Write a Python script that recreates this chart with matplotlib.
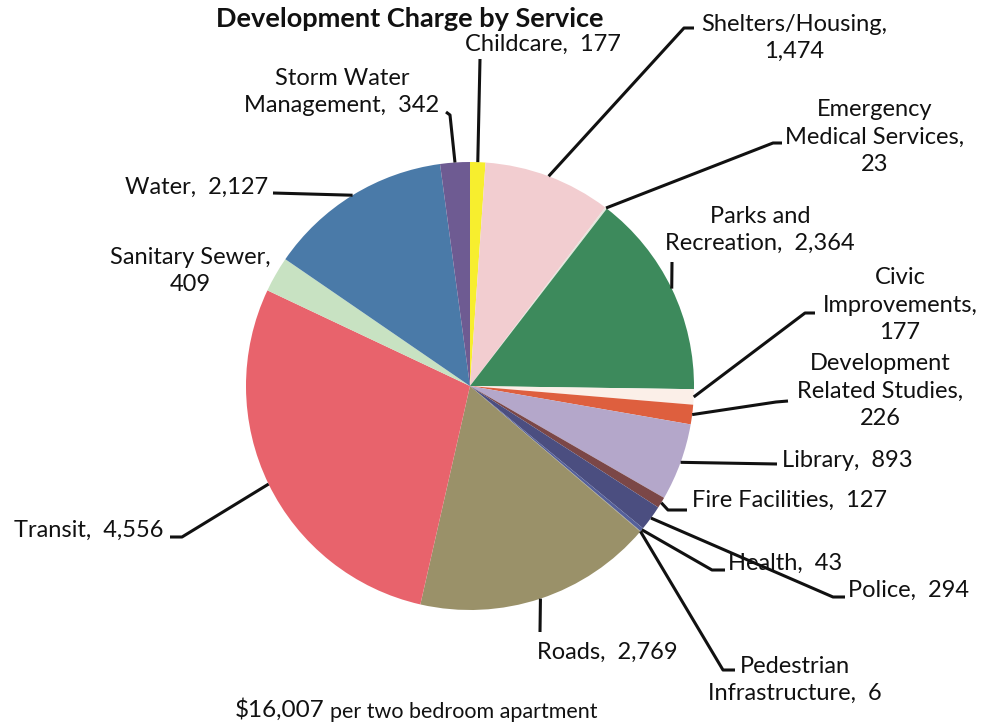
import numpy as np
import matplotlib.pyplot as plt

plt.rcParams['font.family'] = ['Lato', 'DejaVu Sans']

# development charge per two bedroom apartment, by service (clockwise from top)
services = ["Childcare", "Shelters/Housing", "Emergency\nMedical Services",
            "Parks and\nRecreation", "Civic\nImprovements", "Development\nRelated Studies",
            "Library", "Fire Facilities", "Police", "Health", "Pedestrian\nInfrastructure",
            "Roads", "Transit", "Sanitary Sewer", "Water", "Storm Water\nManagement"]
charges = [177, 1474, 23, 2364, 177, 226, 893, 127, 294, 43, 6, 2769, 4556, 409, 2127, 342]
colors = ["#f7ee2e", "#f2cdd0", "#e4e6dc", "#3d8a5c", "#fbefe8", "#de5f3e",
          "#b4a7ca", "#7b4747", "#4b4e80", "#55609a", "#8a8a8a",
          "#9a9169", "#e8636c", "#c8e2c2", "#4a7aa8", "#6e5b92"]

# label placement in pixels: (text x, text y, align, separator before value, leader points)
layout = {
    "Childcare": (543, 44, "center", ",  ", [(480, 59)]),
    "Shelters/Housing": (794, 38, "center", ",\n", [(684, 28), (694, 28)]),
    "Emergency\nMedical Services": (875, 137, "center", ",\n", [(773, 143), (782, 143)]),
    "Parks and\nRecreation": (760, 230, "center", ",  ", [(672, 262)]),
    "Civic\nImprovements": (900, 305, "center", ",\n", [(805, 313), (815, 313)]),
    "Development\nRelated Studies": (880, 391, "center", ",\n", [(776, 402), (788, 401)]),
    "Library": (782, 460, "left", ",  ", [(777, 464)]),
    "Fire Facilities": (692, 500, "left", ",  ", [(668, 510), (687, 510)]),
    "Police": (848, 590, "left", ",  ", [(833, 597), (845, 597)]),
    "Health": (728, 563, "left", ",  ", [(712, 570), (725, 570)]),
    "Pedestrian\nInfrastructure": (795, 680, "center", ",  ", [(723, 670), (735, 670)]),
    "Roads": (537, 652, "left", ",  ", [(540, 632)]),
    "Transit": (163, 530, "right", ",  ", [(182, 537), (170, 537)]),
    "Sanitary Sewer": (190, 271, "center", ",\n", None),
    "Water": (268, 187, "right", ",  ", [(273, 193)]),
    "Storm Water\nManagement": (342, 92, "center", ",  ", [(450, 115), (446, 112)]),
}

W, H = 989, 725
cx, cy, r = 470, 386, 224

fig = plt.figure(figsize=(W / 100, H / 100), dpi=100)
ax = fig.add_axes([0, 0, 1, 1])

wedges, _ = ax.pie(charges, colors=colors, startangle=90, counterclock=False,
                   center=(cx, H - cy), radius=r, frame=True,
                   wedgeprops=dict(linewidth=0))
ax.set_xlim(0, W)
ax.set_ylim(0, H)
ax.set_aspect('equal')
ax.axis('off')

for w, name, val in zip(wedges, services, charges):
    tx, ty, ha, sep, pts = layout[name]
    ax.text(tx, H - ty, f"{name}{sep}{val:,}", ha=ha, va="center", fontsize=17,
            color="#111111", linespacing=1.36, multialignment="center")
    if pts:
        mid = np.deg2rad((w.theta1 + w.theta2) / 2)
        xs = [cx + r * np.cos(mid)] + [p[0] for p in pts]
        ys = [H - cy + r * np.sin(mid)] + [H - p[1] for p in pts]
        ax.plot(xs, ys, color="#111111", lw=2.2, solid_capstyle="butt")

ax.text(410, H - 19, "Development Charge by Service", ha="center", va="center",
        fontsize=19.5, fontweight="bold", color="#111111")
ax.text(235, H - 710, "$16,007", ha="left", va="center", fontsize=17.5, color="#111111")
ax.text(330, H - 712, "per two bedroom apartment", ha="left", va="center",
        fontsize=15.5, color="#111111")

fig.savefig("out.png", dpi=100, facecolor="white")
